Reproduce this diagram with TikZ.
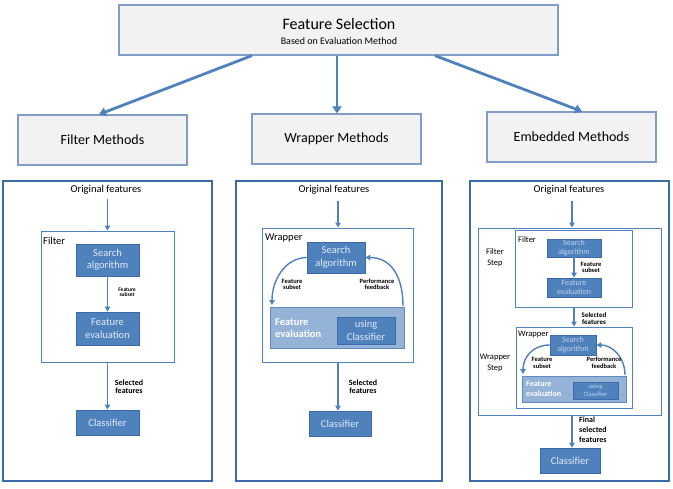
\documentclass[tikz,border=0pt]{standalone}
\usepackage{fontspec}
\setmainfont{Carlito}
\usetikzlibrary{arrows.meta,calc}
\definecolor{accent}{HTML}{4F81BD}
\definecolor{accentdark}{HTML}{3B6BA8}
\definecolor{panelc}{HTML}{3D6BA7}
\definecolor{evallight}{HTML}{95B3D7}
\definecolor{evaldraw}{HTML}{5F8AC4}
\definecolor{boxtext}{HTML}{E3EBF5}
\definecolor{dimtext}{HTML}{C3D3EA}
\definecolor{topfill}{HTML}{F2F2F2}
\definecolor{topdraw}{HTML}{7F9DC6}
\newcommand{\myfs}[2]{\fontsize{#1}{#2}\selectfont}
\tikzset{
  dbox/.style={draw=accentdark, fill=accent, line width=0.8pt, text=boxtext, align=center, inner sep=0pt, font=\myfs{10.5}{12.5}},
  sbox/.style={dbox, text=dimtext, font=\myfs{8}{9.5}},
  evbox/.style={draw=evaldraw, fill=evallight, line width=0.9pt, inner sep=0pt},
  container/.style={draw=accent, line width=1pt, fill=white, inner sep=0pt},
  panel/.style={draw=panelc, line width=2.6pt, inner sep=0pt},
  hbox/.style={draw=topdraw, fill=topfill, line width=1.2pt, inner sep=0pt},
  arr/.style={draw=accent, line width=1.4pt, -{Triangle[width=5.5pt,length=5pt]}},
  bigarr/.style={draw=accent, line width=2.8pt, -{Triangle[width=9pt,length=7pt]}},
  lbl/.style={inner sep=0pt, align=center, font=\myfs{10.5}{12.5}},
  tiny/.style={inner sep=0pt, align=center, font=\bfseries\myfs{#1}{#1}},
}
\begin{document}
\begin{tikzpicture}[x=1pt,y=-1pt]
\useasboundingbox (0,0) rectangle (673,488);

% ---------- header ----------
\node[hbox, minimum width=439, minimum height=50] (top) at (338.5,30) {};
\node[inner sep=0pt, font=\myfs{16}{18}] (title) at (339,24) {Feature Selection};
\node[inner sep=0pt, font=\myfs{10}{12}] (subtitle) at (339,41) {Based on Evaluation Method};

\node[hbox, minimum width=169, minimum height=50, font=\myfs{14}{16}] (fm) at (102.5,140) {Filter Methods};
\node[hbox, minimum width=169, minimum height=50, font=\myfs{14}{16}] (wm) at (336.5,139) {Wrapper Methods};
\node[hbox, minimum width=169, minimum height=50, font=\myfs{14}{16}] (em) at (571.5,137) {Embedded Methods};

\draw[bigarr] (top.south -| 252,0) -- (fm.north -| 99,0);
\draw[bigarr] (top.south -| 337,0) -- (wm.north -| 337,0);
\draw[bigarr] (top.south -| 435,0) -- (em.north -| 582,0);

% ---------- panels ----------
\node[panel, minimum width=209, minimum height=300] (p1) at (107.5,331) {};
\node[panel, minimum width=206, minimum height=300] (p2) at (339,331) {};
\node[panel, minimum width=199, minimum height=300] (p3) at (569.5,331) {};

% ---------- filter panel ----------
\node[lbl] (of1) at (106,190) {Original features};
\node[container, minimum width=133, minimum height=131] (fbox) at (107.5,296.5) {};
\node[lbl, anchor=west] (flab) at (43,241) {Filter};
\node[dbox, minimum width=63, minimum height=32] (fsa) at (107.5,260) {Search\\algorithm};
\node[dbox, minimum width=63, minimum height=33] (fev) at (107.5,328.5) {Feature\\evaluation};
\node[dbox, minimum width=63, minimum height=25] (fcl) at (107.5,422.5) {Classifier};
\draw[arr] (of1.south -| fsa) ++(0,4) coordinate (f0) (f0) -- (fbox.north -| fsa);
\draw[arr] (fsa) -- (fev);
\draw[arr] (fbox.south -| fcl) -- (fcl);
\node[tiny=5.5] (fsub) at (127,292) {Feature\\subset};
\node[tiny=8] (fsel) at (129,387) {Selected\\features};

% ---------- wrapper panel ----------
\node[lbl] (of2) at (334,190) {Original features};
\node[container, minimum width=151, minimum height=134] (wbox) at (337.5,295) {};
\node[lbl, anchor=west] (wlab) at (265,238) {Wrapper};
\node[dbox, minimum width=58, minimum height=31] (wsa) at (336,257.5) {Search\\algorithm};
\node[evbox, minimum width=134, minimum height=41] (wev) at (337,327.5) {};
\node[anchor=west, inner sep=0pt, align=left, text=white, font=\bfseries\myfs{10.5}{12}] (wevt) at (275,328) {Feature\\evaluation};
\node[dbox, minimum width=58, minimum height=27] (wuc) at (366,330.5) {using\\Classifier};
\node[dbox, minimum width=62, minimum height=25] (wcl) at (340,423.5) {Classifier};
\draw[arr] (338,201) -- (wbox.north -| 338,0);
\draw[arr] (wbox.south -| 338,0) -- (wcl.north -| 338,0);
\coordinate (wl) at (272,305);
\coordinate (wr) at (403,306);
\draw[arr] (wsa.west) .. controls (285,258) and (272,280) .. (wl);
\draw[arr] (wr) .. controls (403,275) and (390,257.5) .. (wsa.east);
\node[tiny=6.5] (wsub) at (292,284.5) {Feature\\subset};
\node[tiny=6.5] (wperf) at (377,284.5) {Performance\\feedback};
\node[tiny=8] (wsel) at (363,387) {Selected\\features};

% ---------- embedded panel ----------
\node[lbl] (of3) at (569,190) {Original features};
\node[container, minimum width=183, minimum height=187] (ebox) at (569.5,321.5) {};
\node[container, minimum width=117, minimum height=77] (efbox) at (573.5,268.5) {};
\node[container, minimum width=116, minimum height=81] (ewbox) at (574,367.5) {};
\node[inner sep=0pt, anchor=west, font=\myfs{8.5}{10}] (eflab) at (518,240) {Filter};
\node[inner sep=0pt, align=center, font=\myfs{8.5}{11}] (efstep) at (495,257.5) {Filter\\Step};
\node[inner sep=0pt, anchor=west, font=\myfs{8.5}{10}] (ewlab) at (518,334) {Wrapper};
\node[inner sep=0pt, align=center, font=\myfs{8.5}{10.5}] (ewstep) at (495,363) {Wrapper\\Step};

\node[sbox, minimum width=54, minimum height=18] (esa) at (574,248) {Search\\algorithm};
\node[sbox, minimum width=54, minimum height=19] (eev) at (574,287.5) {Feature\\evaluation};
\draw[arr] (esa) -- (eev);
\node[tiny=6.5] (esub) at (591,267.5) {Feature\\subset};
\draw[arr] (572,201) -- (ebox.north -| 572,0);
\draw[arr] (efbox.south -| 574,0) -- (ewbox.north -| 574,0);
\node[tiny=7] (esel) at (594,318.5) {Selected\\features};

\node[sbox, minimum width=46, minimum height=20] (esa2) at (573,345) {Search\\algorithm};
\node[evbox, minimum width=104, minimum height=26] (eev2) at (574,389) {};
\node[anchor=west, inner sep=0pt, align=left, text=white, font=\bfseries\myfs{8}{10}] (eev2t) at (526,389) {Feature\\evaluation};
\node[sbox, minimum width=45, minimum height=17, font=\myfs{6.5}{7.5}] (euc) at (595.5,390.5) {using\\Classifier};
\coordinate (el) at (523,374);
\coordinate (er) at (625,375);
\draw[arr] (esa2.west) .. controls (533,345) and (523,357) .. (el);
\draw[arr] (er) .. controls (625,357) and (612,345) .. (esa2.east);
\node[tiny=6.5] (esub2) at (542,363) {Feature\\subset};
\node[tiny=6.5] (eperf) at (604,363) {Performance\\feedback};

\node[dbox, minimum width=60, minimum height=25] (ecl) at (570,460.5) {Classifier};
\draw[arr] (ebox.south -| 572,0) -- (ecl.north -| 572,0);
\node[anchor=west, inner sep=0pt, align=left, font=\bfseries\myfs{8}{10.2}] (efin) at (579,430) {Final\\selected\\features};
\end{tikzpicture}
\end{document}
